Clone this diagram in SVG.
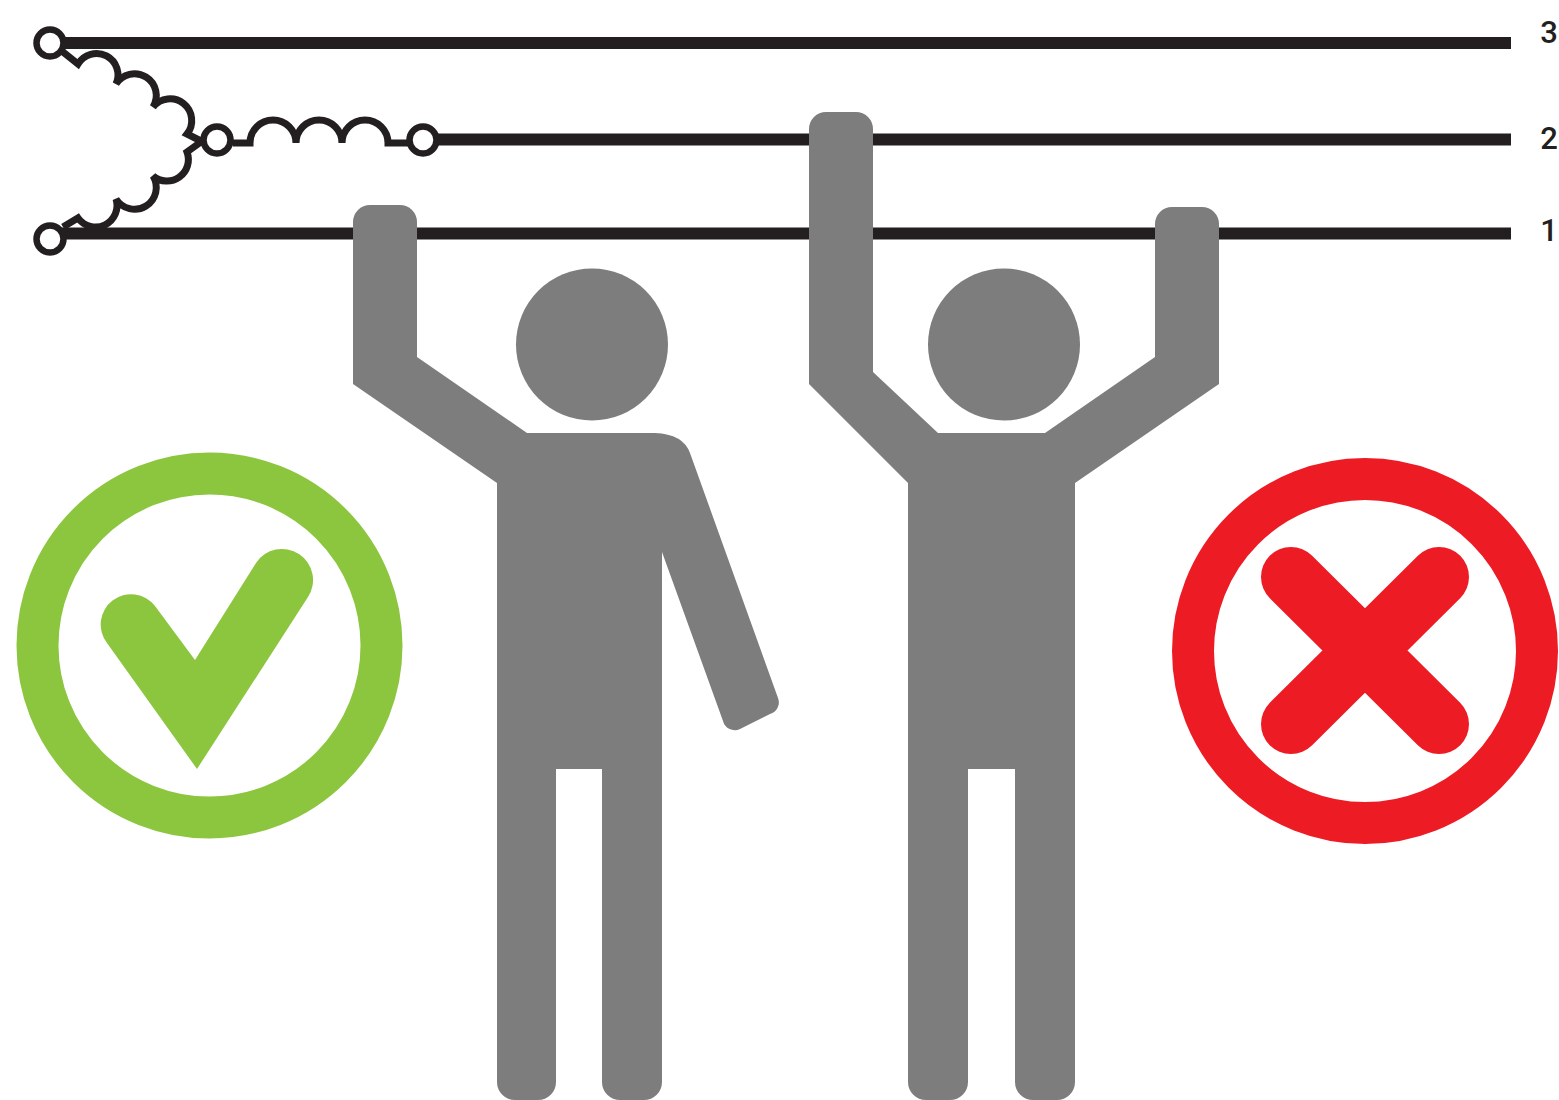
<svg xmlns="http://www.w3.org/2000/svg" width="1559" height="1100" viewBox="0 0 1559 1100">
<style>
.wire{stroke:#231f20;stroke-width:12;fill:none}
.coil{stroke:#231f20;stroke-width:7;fill:none;stroke-linejoin:miter}
.term{stroke:#231f20;stroke-width:6.500;fill:#fff}
.fig{fill:#7d7d7d}
.lbl{font-family:"Roboto","Liberation Sans",sans-serif;font-size:31px;font-weight:500;fill:#231f20;text-anchor:middle}
</style>
<rect width="1559" height="1100" fill="#fff"/>
<g id="connectors">
<path class="wire" d="M50 43H1511"/>
<path class="wire" d="M423 139.500H1511"/>
<path class="wire" d="M50 233.500H1511"/>
<path class="coil" d="M63 52L78 64A21.500 21.500 0 0 1 116 84A21.500 21.500 0 0 1 153 107A21.500 21.500 0 0 1 187 134L205 143"/>
<path class="coil" d="M63 227L78 218A21.500 21.500 0 0 0 116 199A21.500 21.500 0 0 0 153 176A21.500 21.500 0 0 0 187 152L205 139"/>
<path class="coil" d="M233 143H250A23 23 0 0 1 296 143A23 23 0 0 1 342 143A23 23 0 0 1 388 143H408"/>
</g>
<g id="terminal-3"><circle class="term" cx="50" cy="43" r="13.500"/></g>
<g id="terminal-n"><circle class="term" cx="217" cy="140" r="13.500"/></g>
<g id="terminal-2"><circle class="term" cx="423" cy="140" r="13.500"/></g>
<g id="terminal-1"><circle class="term" cx="50" cy="239" r="13.500"/></g>
<g id="label-3"><text class="lbl" x="1549" y="43">3</text></g>
<g id="label-2"><text class="lbl" x="1549" y="149">2</text></g>
<g id="label-1"><text class="lbl" x="1549" y="241">1</text></g>
<g id="figure-safe">
<circle class="fig" cx="592" cy="344.500" r="76"/>
<path class="fig" d="M353 222A17 17 0 0 1 370 205H400A17 17 0 0 1 417 222V357L527 433H655Q683 434 690 453L778 698A12 12 0 0 1 770 714L740 729A12 12 0 0 1 723 721L662 552V1082A18 18 0 0 1 644 1100H620A18 18 0 0 1 602 1082V769H556V1082A18 18 0 0 1 538 1100H515A18 18 0 0 1 497 1082V483L353 384Z"/>
</g>
<g id="figure-unsafe">
<circle class="fig" cx="1004" cy="344.500" r="76"/>
<path class="fig" d="M809 129A17 17 0 0 1 826 112H856A17 17 0 0 1 873 129V372L938 433H1045L1155 357V224A17 17 0 0 1 1172 207H1202A17 17 0 0 1 1219 224V384L1075 483V1082A18 18 0 0 1 1057 1100H1033A18 18 0 0 1 1015 1082V769H968V1082A18 18 0 0 1 950 1100H926A18 18 0 0 1 908 1082V483L809 384Z"/>
</g>
<g id="check-icon">
<circle cx="209.500" cy="645.500" r="172" fill="none" stroke="#8cc63f" stroke-width="42"/>
<path fill="#8cc63f" d="M197 769L107 643A30 30 0 0 1 155 606L195 660L256 563A31 31 0 0 1 308 597Z"/>
</g>
<g id="cross-icon">
<circle cx="1365" cy="651" r="172" fill="none" stroke="#ed1c24" stroke-width="42"/>
<path stroke="#ed1c24" stroke-width="60" stroke-linecap="round" fill="none" d="M1291 577L1439 724M1439 577L1291 724"/>
</g>
</svg>
